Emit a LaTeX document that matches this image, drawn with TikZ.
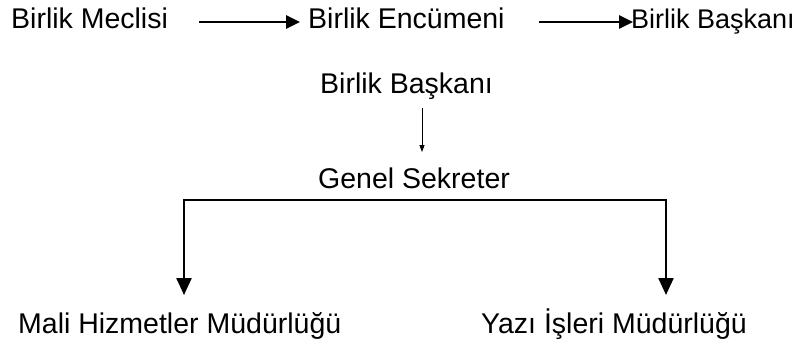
\documentclass[tikz,border=0pt]{standalone}
\usepackage{fontspec}
\setmainfont{Liberation Sans}
\usepackage{tikz}
\usetikzlibrary{arrows.meta,positioning,calc}

\begin{document}
\begin{tikzpicture}[x=1pt,y=-1pt,
  unit/.style={anchor=base west,inner sep=0pt,font=\fontsize{28.5}{34}\selectfont},
  bigarrow/.style={-{Triangle[length=14pt,width=13pt]},line width=2.6pt},
  thinarrow/.style={-{Triangle[length=7pt,width=5pt]},line width=0.8pt},
  forkarrow/.style={{Triangle[length=17pt,width=15pt]}-{Triangle[length=17pt,width=15pt]},line width=2.4pt}]
\useasboundingbox (0,0) rectangle (806,345);

  \node[unit] (mec) at (11,29) {Birlik Meclisi};
  \node[unit] (enc) at (308,29) {Birlik Encümeni};
  \node[unit,font=\fontsize{27}{32}\selectfont] (bas1) at (631,29) {Birlik Başkanı};

  \node[unit] (bas2) at (320,93) {Birlik Başkanı};
  \node[unit] (gen) at (318,188) {Genel Sekreter};

  \node[unit] (mali) at (18,333) {Mali Hizmetler Müdürlüğü};
  \node[unit] (yazi) at (481,333) {Yazı İşleri Müdürlüğü};

  \coordinate (ml) at ([xshift=166pt,yshift=38pt]mali.base west);
  \coordinate (yz) at ([xshift=185pt,yshift=38pt]yazi.base west);

  \draw[bigarrow] ([xshift=31pt,yshift=7pt]mec.base east) -- ([xshift=-8pt,yshift=7pt]enc.base west);
  \draw[bigarrow] ([xshift=34pt,yshift=7pt]enc.base east) -- ([xshift=2pt,yshift=7pt]bas1.base west);
  \draw[thinarrow] ([xshift=102pt,yshift=-15pt]bas2.base west) -- ([xshift=104pt,yshift=36pt]gen.base west);
  \draw[forkarrow] (ml) |- ([yshift=-12pt]gen.base) -| (yz);
\end{tikzpicture}
\end{document}
